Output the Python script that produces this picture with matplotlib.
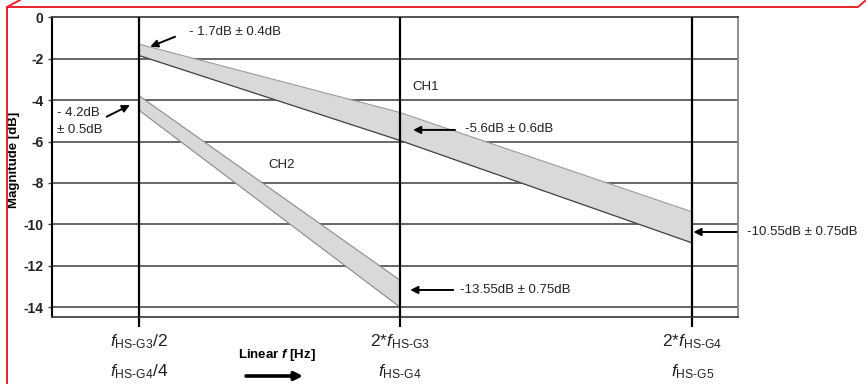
import matplotlib
matplotlib.use("Agg")
import matplotlib.pyplot as plt
from matplotlib.lines import Line2D

plt.rcParams['font.family'] = ['Liberation Sans', 'DejaVu Sans']
plt.rcParams['mathtext.fontset'] = 'custom'
plt.rcParams['mathtext.rm'] = 'Liberation Sans'
plt.rcParams['mathtext.it'] = 'Liberation Sans:italic'
plt.rcParams['mathtext.bf'] = 'Liberation Sans:bold'
if 'mathtext.bfit' in plt.rcParams:
    plt.rcParams['mathtext.bfit'] = 'Liberation Sans:italic:bold'

# ---- data ----
freq_pos = [0.0, 1.0, 2.121]          # linear frequency positions of the three markers
tick_line1 = ["$f_{\\mathrm{HS\u2010G3}}$/2", "2*$f_{\\mathrm{HS\u2010G3}}$", "2*$f_{\\mathrm{HS\u2010G4}}$"]
tick_line2 = ["$f_{\\mathrm{HS\u2010G4}}$/4", "$f_{\\mathrm{HS\u2010G4}}$", "$f_{\\mathrm{HS\u2010G5}}$"]
y_ticks = [0, -2, -4, -6, -8, -10, -12, -14]

ch1_x = [0.0, 1.0, 2.121]
ch1_upper = [-1.3, -4.6, -9.4]
ch1_lower = [-1.85, -5.95, -10.9]

ch2_x = [0.0, 1.0]
ch2_upper = [-3.8, -12.7]
ch2_lower = [-4.5, -14.0]

# ---- figure ----
fig = plt.figure(figsize=(8.66, 3.84), dpi=100)
ax = fig.add_axes([0.0597, 0.1753, 0.7921, 0.7797])
ax.set_xlim(-0.336, 2.295)
ax.set_ylim(-14.46, 0)

# horizontal grid lines
for yv in y_ticks[1:]:
    ax.axhline(yv, color='#5a5a5a', lw=1.3, zorder=1)

# vertical marker lines
for xv in freq_pos:
    ax.axvline(xv, color='black', lw=1.6, zorder=4)

# bands
ax.fill_between(ch1_x, ch1_upper, ch1_lower, color='#d9d9d9', zorder=2, lw=0)
ax.plot(ch1_x, ch1_upper, color='#9a9a9a', lw=0.8, zorder=3)
ax.plot(ch1_x, ch1_lower, color='#404040', lw=0.9, zorder=3)
ax.fill_between(ch2_x, ch2_upper, ch2_lower, color='#d9d9d9', zorder=2, lw=0)
ax.plot(ch2_x, ch2_upper, color='#8a8a8a', lw=0.8, zorder=3)
ax.plot(ch2_x, ch2_lower, color='#8a8a8a', lw=0.8, zorder=3)

# spines
ax.spines['left'].set_color('black')
ax.spines['left'].set_linewidth(1.5)
ax.spines['top'].set_color('#444444')
ax.spines['top'].set_linewidth(1.3)
ax.spines['bottom'].set_color('#444444')
ax.spines['bottom'].set_linewidth(1.3)
ax.spines['right'].set_color('#888888')
ax.spines['right'].set_linewidth(1.3)

ax.set_yticks(y_ticks)
ax.set_yticklabels([str(v) if v == 0 else "-%d" % abs(v) for v in y_ticks],
                   fontsize=10, fontweight='bold', color='#222222')
ax.tick_params(axis='y', length=3, width=1, color='#444444', pad=3)
ax.set_xticks(freq_pos)
ax.set_xticklabels([])
ax.tick_params(axis='x', length=7, width=1.6, color='black', direction='out')

ax.set_ylabel("Magnitude [dB]", fontsize=9.5, fontweight='bold')
ax.yaxis.set_label_coords(-0.046, 0.523)

# x tick labels (two lines)
for xv, l1, l2 in zip(freq_pos, tick_line1, tick_line2):
    ax.text(xv, -0.085, l1, transform=ax.get_xaxis_transform(), ha='center', va='center',
            fontsize=12.5, clip_on=False, color='#222222')
    ax.text(xv, -0.185, l2, transform=ax.get_xaxis_transform(), ha='center', va='center',
            fontsize=12.5, clip_on=False, color='#222222')

arrowprops = dict(arrowstyle='-|>', color='black', lw=1.4, mutation_scale=11,
                  shrinkA=0, shrinkB=0)
fs = 9.5

# annotations
ax.annotate("", xy=(0.042, -1.42), xytext=(0.137, -0.94), arrowprops=arrowprops)
ax.text(0.19, -0.71, "- 1.7dB \u00b1 0.4dB", fontsize=fs, va='center', ha='left', color='#222222')

ax.annotate("", xy=(-0.036, -4.24), xytext=(-0.125, -4.80), arrowprops=arrowprops)
ax.text(-0.316, -4.62, "- 4.2dB", fontsize=fs, va='center', ha='left', color='#222222')
ax.text(-0.316, -5.44, "\u00b1 0.5dB", fontsize=fs, va='center', ha='left', color='#222222')

ax.text(1.046, -3.37, "CH1", fontsize=fs, va='center', ha='left', color='#222222')
ax.annotate("", xy=(1.05, -5.44), xytext=(1.211, -5.44), arrowprops=arrowprops)
ax.text(1.25, -5.41, "-5.6dB \u00b1 0.6dB", fontsize=fs, va='center', ha='left', color='#222222')

ax.text(0.494, -7.13, "CH2", fontsize=fs, va='center', ha='left', color='#222222')
ax.annotate("", xy=(1.039, -13.17), xytext=(1.204, -13.17), arrowprops=arrowprops)
ax.text(1.23, -13.17, "-13.55dB \u00b1 0.75dB", fontsize=fs, va='center', ha='left', color='#222222')

ax.annotate("", xy=(2.125, -10.37), xytext=(2.291, -10.37), arrowprops=arrowprops,
            annotation_clip=False)
ax.text(2.33, -10.37, "-10.55dB \u00b1 0.75dB", fontsize=fs, va='center', ha='left',
        color='#222222', clip_on=False)

# Linear f label with arrow (figure pixel coords)
W, H = 866, 384
def fx(p): return p / W
def fy(p): return 1 - p / H

fig.text(fx(277), fy(355), r"Linear $\mathbfit{f}$ [Hz]", fontsize=9.5, fontweight='bold',
         ha='center', va='center')
ax.annotate("", xy=(fx(303), fy(376)), xytext=(fx(246), fy(376)),
            xycoords='figure fraction', textcoords='figure fraction',
            arrowprops=dict(arrowstyle='-|>', color='black', lw=2.6, mutation_scale=12,
                            shrinkA=0, shrinkB=0))

# red frame
fig.add_artist(Line2D([fx(20), fx(7), fx(7)], [fy(0), fy(7), fy(384)], color='#e8202a', lw=1.4))
fig.add_artist(Line2D([fx(7), fx(858), fx(866)], [fy(7), fy(7), fy(0)], color='#e8202a', lw=1.4))

fig.savefig("out.png", dpi=100)
